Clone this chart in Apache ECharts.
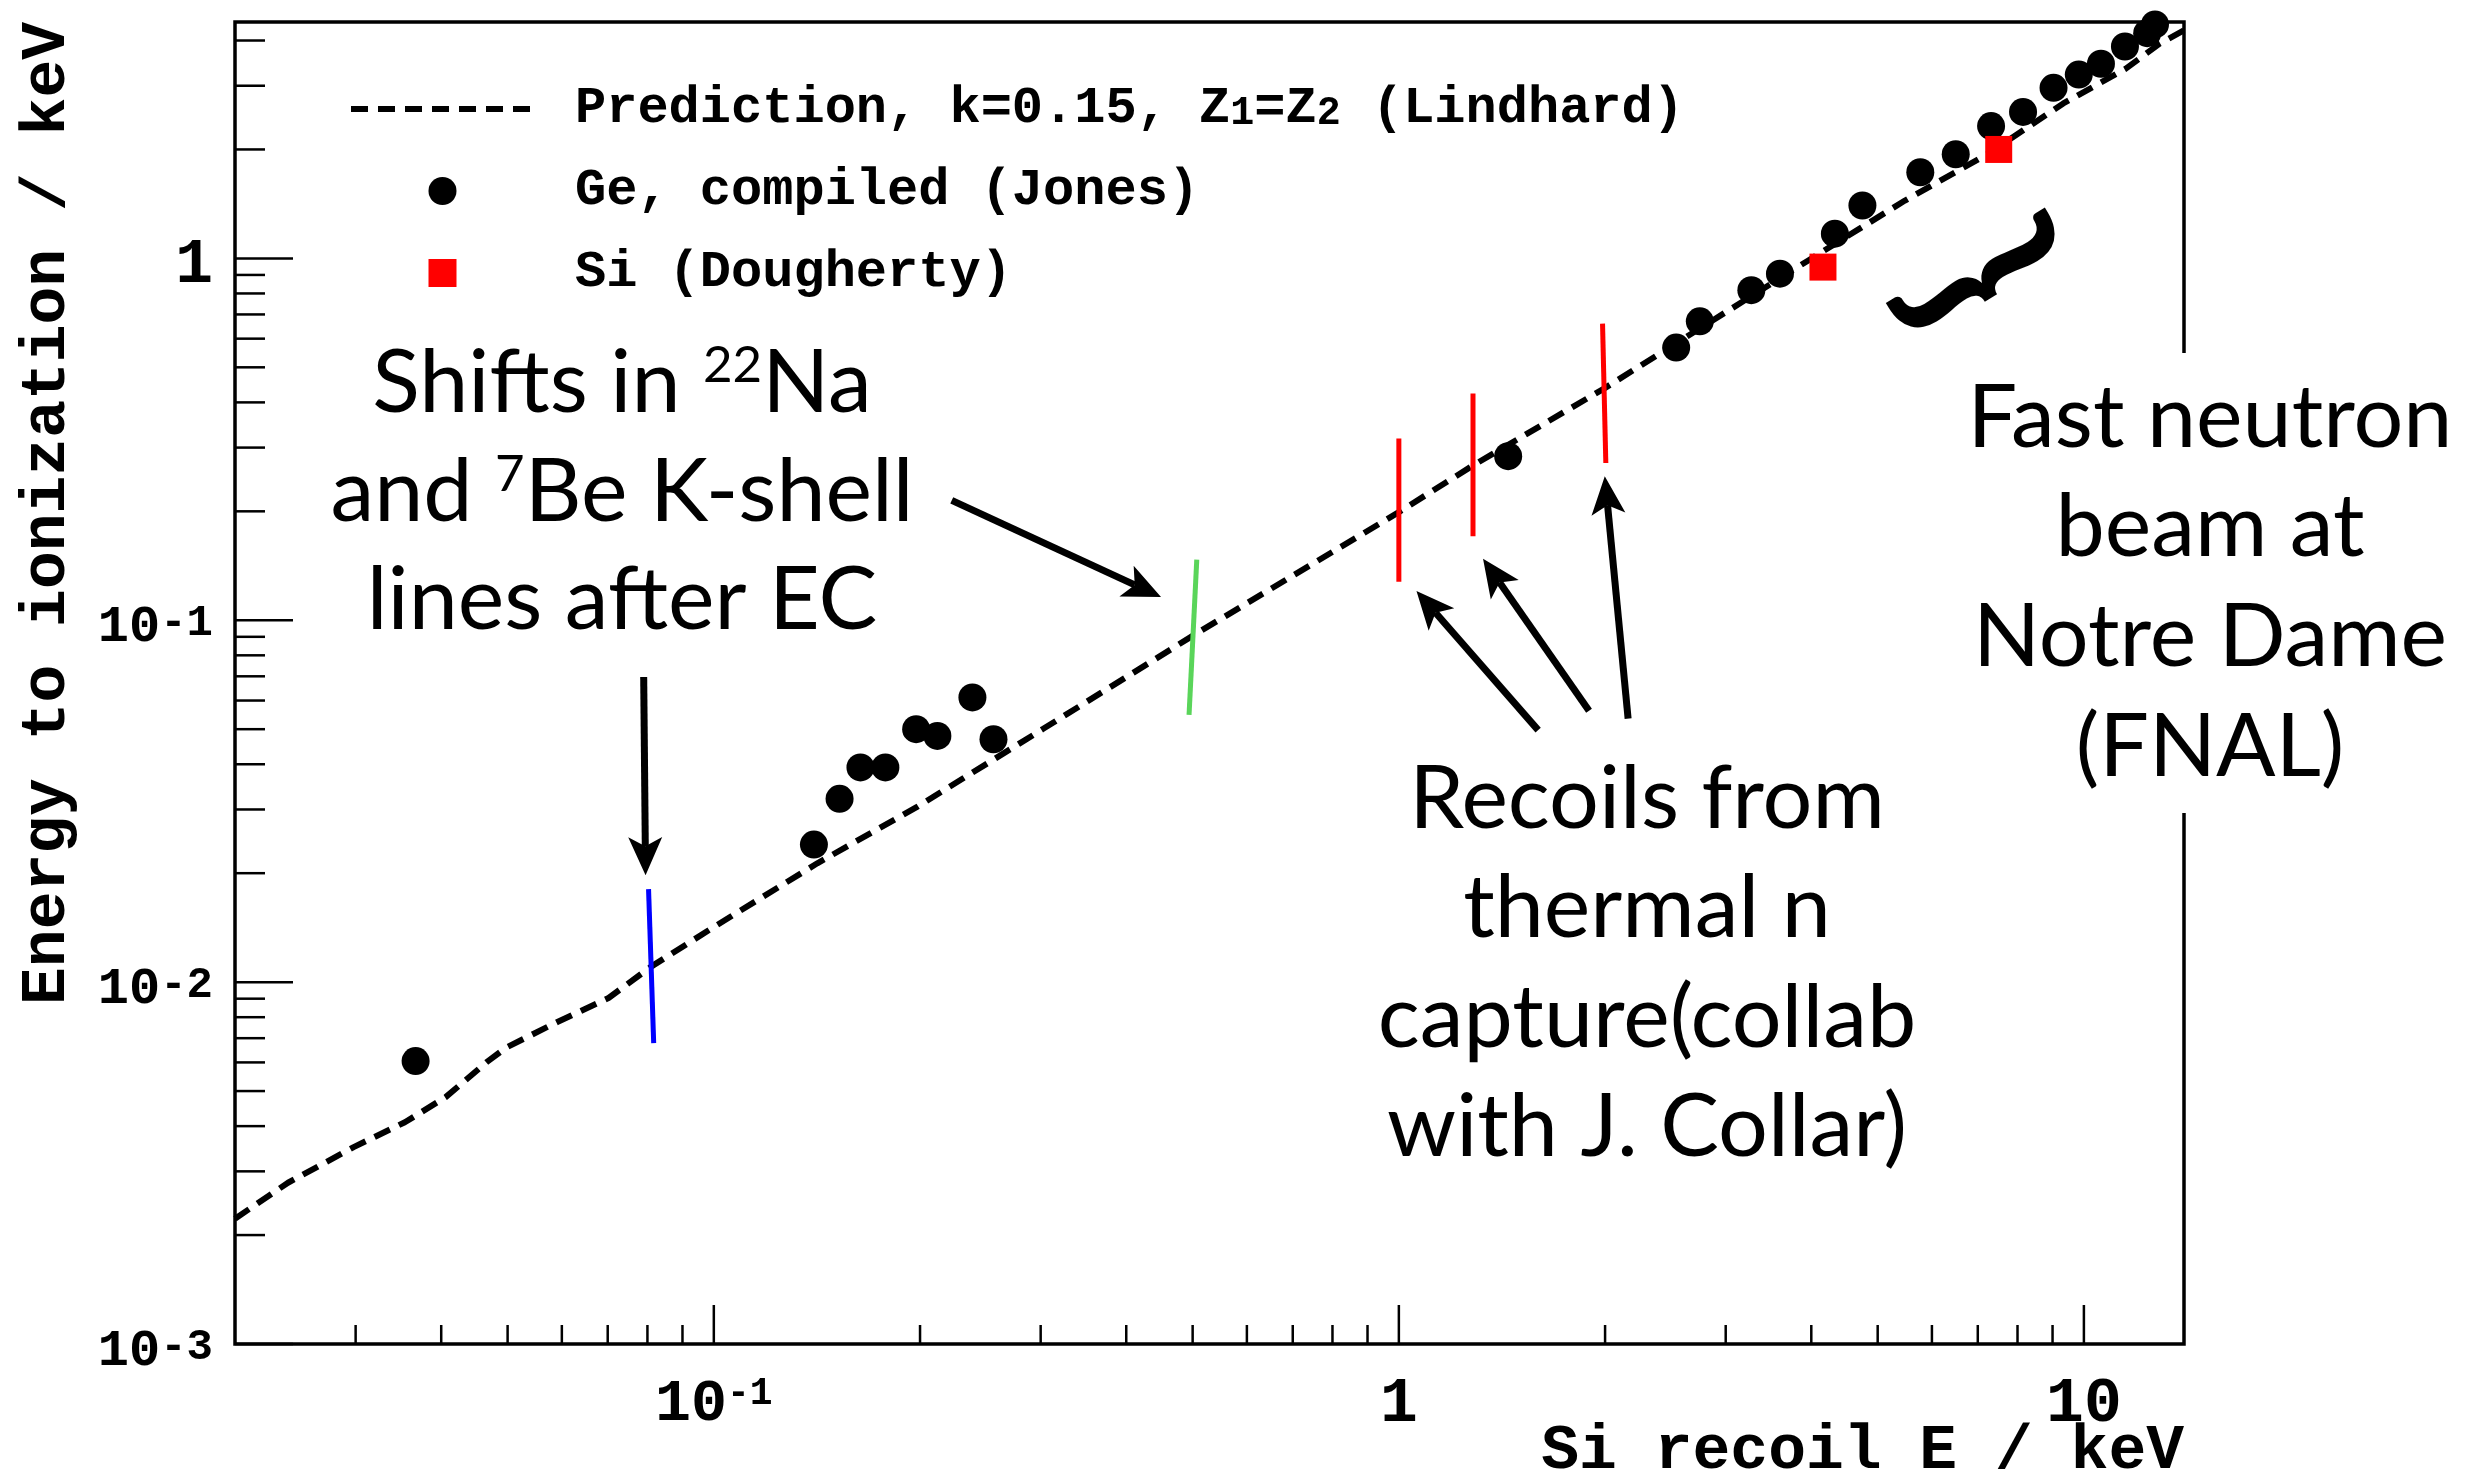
<!DOCTYPE html>
<html lang="en">
<head>
<meta charset="UTF-8">
<title>Energy to ionization vs Si recoil energy</title>
<script src="https://cdn.jsdelivr.net/npm/echarts@6/dist/echarts.min.js"></script>
<style>
    html, body { margin: 0; padding: 0; background: #fff; }
    #app { width: 2490px; height: 1476px; }
</style>
</head>
<body>
<div id="app"></div>
<script>
    var X_MIN = 0.02, X_MAX = 14, Y_MIN = 0.001, Y_MAX = 4.5;

    // Lindhard prediction
    var predX = [0.02, 0.0239, 0.0298, 0.0354, 0.0406, 0.0466, 0.0498, 0.0591, 0.0702, 0.0808, 0.1, 0.1416, 0.198, 0.303, 0.502, 1.0, 1.284, 1.99, 3.96, 5.48, 7.26, 9.33, 11.5, 12.9, 14];
    var predY = [0.00222, 0.00279, 0.0035, 0.0041, 0.00481, 0.00601, 0.0066, 0.00776, 0.00904, 0.011, 0.0142, 0.0213, 0.0305, 0.0502, 0.091, 0.199, 0.268, 0.436, 0.987, 1.445, 1.95, 2.68, 3.34, 3.92, 4.27];

    // Ge, compiled (Jones)
    var geX = [0.0367, 0.140, 0.1526, 0.1637, 0.178, 0.1974, 0.212, 0.2385, 0.256, 1.444, 2.54, 2.75, 3.27, 3.60, 4.33, 4.75, 5.77, 6.50, 7.32, 8.15, 9.03, 9.83, 10.59, 11.48, 12.37, 12.7];
    var geY = [0.00605, 0.0240, 0.0321, 0.0392, 0.0392, 0.0500, 0.0479, 0.0612, 0.0469, 0.284, 0.567, 0.67, 0.817, 0.907, 1.17, 1.40, 1.73, 1.94, 2.32, 2.54, 2.96, 3.22, 3.45, 3.85, 4.19, 4.43];

    // Si (Dougherty)
    var siX = [4.16, 7.51];
    var siY = [0.946, 2.0];

    // vertical marks: [bottom point, top point]
    var naBeMark = [[0.0817, 0.00678], [0.0803, 0.01807]];
    var kShellMark = [[0.494, 0.0548], [0.507, 0.147]];
    var captureMarks = [
        [[1.0, 0.1277], [1.0, 0.318]],
        [[1.283, 0.1706], [1.283, 0.423]],
        [[2.005, 0.272], [1.983, 0.660]]
    ];

    // arrows: [tail, tip]
    var arrows = [
        [[0.0790, 0.0697], [0.0795, 0.01975]],
        [[0.2225, 0.2145], [0.4496, 0.1159]],
        [[1.597, 0.0497], [1.061, 0.1205]],
        [[1.895, 0.0562], [1.327, 0.148]],
        [[2.161, 0.0535], [1.998, 0.2499]]
    ];

    // axis ticks
    var xMajorTicks = [0.1, 1, 10];
    var xMajorLabels = [['10', '-1'], ['1', ''], ['10', '']];
    var xMinorTicks = [0.03, 0.04, 0.05, 0.06, 0.07, 0.08, 0.09, 0.2, 0.3, 0.4, 0.5, 0.6, 0.7, 0.8, 0.9, 2, 3, 4, 5, 6, 7, 8, 9];
    var yMajorTicks = [0.001, 0.01, 0.1, 1];
    var yMajorLabels = [['10', '-3'], ['10', '-2'], ['10', '-1'], ['1', '']];
    var yMinorTicks = [0.002, 0.003, 0.004, 0.005, 0.006, 0.007, 0.008, 0.009, 0.02, 0.03, 0.04, 0.05, 0.06, 0.07, 0.08, 0.09, 0.2, 0.3, 0.4, 0.5, 0.6, 0.7, 0.8, 0.9, 2, 3, 4];

    var PRED = 'Prediction, k=0.15, Z1=Z2 (Lindhard)';
    var GE = 'Ge, compiled (Jones)';
    var SI = 'Si (Dougherty)';

    var MONO = 'Liberation Mono';
    var SANS = 'Lato';

    function zip(a, b) {
        return a.map(function (v, i) { return [v, b[i]]; });
    }

    var xRich = {
        b: { fontFamily: MONO, fontWeight: 'bold', fontSize: 60, lineHeight: 60, color: '#000' },
        e: { fontFamily: MONO, fontWeight: 'bold', fontSize: 38, lineHeight: 24, verticalAlign: 'top', color: '#000' },
        one: { fontFamily: MONO, fontWeight: 'bold', fontSize: 63, lineHeight: 60, color: '#000' }
    };
    var yRich = {
        b: { fontFamily: MONO, fontWeight: 'bold', fontSize: 52, lineHeight: 52, color: '#000' },
        e: { fontFamily: MONO, fontWeight: 'bold', fontSize: 44, lineHeight: 12, verticalAlign: 'top', color: '#000' },
        one: { fontFamily: MONO, fontWeight: 'bold', fontSize: 63, lineHeight: 52, color: '#000' }
    };

    function labelText(lab) {
        if (lab[1] === '') return '{one|' + lab[0] + '}';
        return '{b|' + lab[0] + '}{e|' + lab[1] + '}';
    }

    // ticks drawn inward from the frame, like the original ROOT canvas
    function tickSeries(ticks, labels, axis, len) {
        return {
            type: 'custom',
            silent: true,
            z: 5,
            data: ticks.map(function (v) { return axis === 'x' ? [v, Y_MIN] : [X_MIN, v]; }),
            renderItem: function (params, api) {
                var p = api.coord([api.value(0), api.value(1)]);
                var kids = [{
                    type: 'line',
                    shape: axis === 'x'
                        ? { x1: p[0], y1: p[1], x2: p[0], y2: p[1] - len }
                        : { x1: p[0], y1: p[1], x2: p[0] + len, y2: p[1] },
                    style: { stroke: '#000', lineWidth: 2.5 }
                }];
                if (labels) {
                    kids.push({
                        type: 'text',
                        x: axis === 'x' ? p[0] : p[0] - 22,
                        y: axis === 'x' ? p[1] + 61 : p[1] + 8,
                        style: {
                            text: labelText(labels[params.dataIndex]),
                            rich: axis === 'x' ? xRich : yRich,
                            align: axis === 'x' ? 'center' : 'right',
                            verticalAlign: 'middle'
                        }
                    });
                }
                return { type: 'group', children: kids };
            }
        };
    }

    function markSeries(name, pts, color) {
        return {
            name: name,
            type: 'line',
            data: pts,
            symbol: 'none',
            silent: true,
            z: 4,
            lineStyle: { color: color, width: 5, opacity: 1 }
        };
    }

    var chart = echarts.init(document.getElementById('app'));

    var series = [
        {
            name: PRED,
            type: 'line',
            data: zip(predX, predY),
            symbol: 'none',
            z: 3,
            itemStyle: { color: 'rgba(0,0,0,0)' },
            lineStyle: { color: '#000', width: 6, type: [17, 10], opacity: 1 }
        },
        markSeries('naBe', naBeMark, '#0000ff'),
        markSeries('kshell', kShellMark, '#5ad55a')
    ];
    captureMarks.forEach(function (m, i) {
        series.push(markSeries('capture' + i, m, '#ff0000'));
    });
    series.push({
        name: GE,
        type: 'scatter',
        data: zip(geX, geY),
        symbol: 'circle',
        symbolSize: 28,
        z: 6,
        itemStyle: { color: '#000', opacity: 1 }
    });
    series.push({
        name: SI,
        type: 'scatter',
        data: zip(siX, siY),
        symbol: 'path://M0,0L10,0L10,10L0,10Z',
        symbolSize: 27,
        z: 7,
        itemStyle: { color: '#ff0000', opacity: 1 }
    });
    series.push(tickSeries(xMajorTicks, xMajorLabels, 'x', 39));
    series.push(tickSeries(xMinorTicks, null, 'x', 19));
    series.push(tickSeries(yMajorTicks, yMajorLabels, 'y', 58));
    series.push(tickSeries(yMinorTicks, null, 'y', 30));

    var legendRich = {
        n: { fontFamily: MONO, fontWeight: 'bold', fontSize: 52, lineHeight: 50, color: '#000' },
        s: { fontFamily: MONO, fontWeight: 'bold', fontSize: 40, lineHeight: 4, verticalAlign: 'bottom', color: '#000' }
    };

    var option = {
        animation: false,
        backgroundColor: '#fff',
        grid: {
            left: 235, top: 22, width: 1949, height: 1322,
            containLabel: false,
            outerBoundsMode: 'none',
            show: true,
            borderColor: '#000',
            borderWidth: 3.5,
            backgroundColor: 'transparent'
        },
        xAxis: {
            type: 'log', logBase: 10, min: X_MIN, max: X_MAX,
            axisLine: { show: false }, axisTick: { show: false },
            axisLabel: { show: false }, splitLine: { show: false }, minorTick: { show: false }
        },
        yAxis: {
            type: 'log', logBase: 10, min: Y_MIN, max: Y_MAX,
            axisLine: { show: false }, axisTick: { show: false },
            axisLabel: { show: false }, splitLine: { show: false }, minorTick: { show: false }
        },
        legend: {
            data: [
                { name: PRED, itemStyle: { opacity: 0 }, lineStyle: { color: '#000', width: 6, type: [17, 10], opacity: 1 } },
                { name: GE, itemStyle: { color: '#000', opacity: 1 } },
                { name: SI, itemStyle: { color: '#ff0000', opacity: 1 } }
            ],
            orient: 'vertical',
            left: 348,
            top: 83,
            padding: 0,
            itemWidth: 183,
            itemHeight: 28,
            itemGap: 30,
            selectedMode: false,
            formatter: function (name) {
                if (name === PRED) {
                    return '{n|Prediction, k=0.15, Z}{s|1}{n|=Z}{s|2}{n| (Lindhard)}';
                }
                return '{n|' + name + '}';
            },
            textStyle: {
                fontFamily: MONO, fontWeight: 'bold', fontSize: 52, color: '#000',
                padding: [0, 0, 0, 36],
                rich: legendRich
            }
        },
        series: series
    };
    chart.setOption(option);

    // annotations, placed after the axes exist
    function toPx(pt) {
        return chart.convertToPixel({ xAxisIndex: 0, yAxisIndex: 0 }, pt);
    }

    function arrowGraphic(tail, tip) {
        var a = toPx(tail), b = toPx(tip);
        var dx = b[0] - a[0], dy = b[1] - a[1];
        var d = Math.sqrt(dx * dx + dy * dy);
        var ux = dx / d, uy = dy / d, nx = -uy, ny = ux;
        var L = 38, W = 17, notch = 9;
        var bx = b[0] - ux * L, by = b[1] - uy * L;
        var mx = b[0] - ux * (L - notch), my = b[1] - uy * (L - notch);
        return {
            type: 'group',
            z: 40,
            children: [
                {
                    type: 'line',
                    shape: { x1: a[0], y1: a[1], x2: mx, y2: my },
                    style: { stroke: '#000', lineWidth: 7 }
                },
                {
                    type: 'polygon',
                    shape: { points: [[b[0], b[1]], [bx + nx * W, by + ny * W], [mx, my], [bx - nx * W, by - ny * W]] },
                    style: { fill: '#000' }
                }
            ]
        };
    }

    var annRich = {
        t: { fontFamily: SANS, fontSize: 88, lineHeight: 88, color: '#000' },
        sup: { fontFamily: SANS, fontSize: 51, lineHeight: 38, verticalAlign: 'top', color: '#000' }
    };

    function textBlock(lines, cx, ys) {
        return lines.map(function (line, i) {
            return {
                type: 'text',
                x: cx,
                y: ys[i],
                z: 60,
                style: { text: line, rich: annRich, align: 'center', verticalAlign: 'middle' }
            };
        });
    }

    var shiftsLines = ['{t|Shifts in }{sup|22}{t|Na}', '{t|and }{sup|7}{t|Be K-shell}', '{t|lines after EC}'];
    var recoilLines = ['{t|Recoils from}', '{t|thermal n}', '{t|capture(collab}', '{t|with J. Collar)}'];
    var fastLines = ['{t|Fast neutron}', '{t|beam at}', '{t|Notre Dame}', '{t|(FNAL)}'];

    var graphics = [];
    arrows.forEach(function (ar) { graphics.push(arrowGraphic(ar[0], ar[1])); });
    graphics.push({
        type: 'rect', z: 50,
        shape: { x: 1950, y: 353, width: 530, height: 460 },
        style: { fill: '#fff' }
    });
    graphics = graphics.concat(textBlock(shiftsLines, 622, [384, 493, 601]));
    graphics = graphics.concat(textBlock(recoilLines, 1647, [800, 909, 1019, 1128]));
    graphics = graphics.concat(textBlock(fastLines, 2210, [419, 528, 638, 748]));
    graphics.push({
        type: 'text', x: 1976, y: 278, z: 60,
        rotation: 121 * Math.PI / 180,
        style: { text: '{', fontFamily: SANS, fontWeight: 'bold', fontSize: 200, fill: '#000', align: 'center', verticalAlign: 'middle' }
    });
    graphics.push({
        type: 'text', x: 2184, y: 1452, z: 60,
        style: { text: 'Si recoil E / keV', fontFamily: MONO, fontWeight: 'bold', fontSize: 63, fill: '#000', align: 'right', verticalAlign: 'middle' }
    });
    graphics.push({
        type: 'text', x: 48, y: 22, z: 60,
        rotation: Math.PI / 2,
        style: { text: 'Energy to ionization / keV', fontFamily: MONO, fontWeight: 'bold', fontSize: 63, fill: '#000', align: 'right', verticalAlign: 'middle' }
    });

    chart.setOption({ graphic: graphics });
</script>
</body>
</html>
